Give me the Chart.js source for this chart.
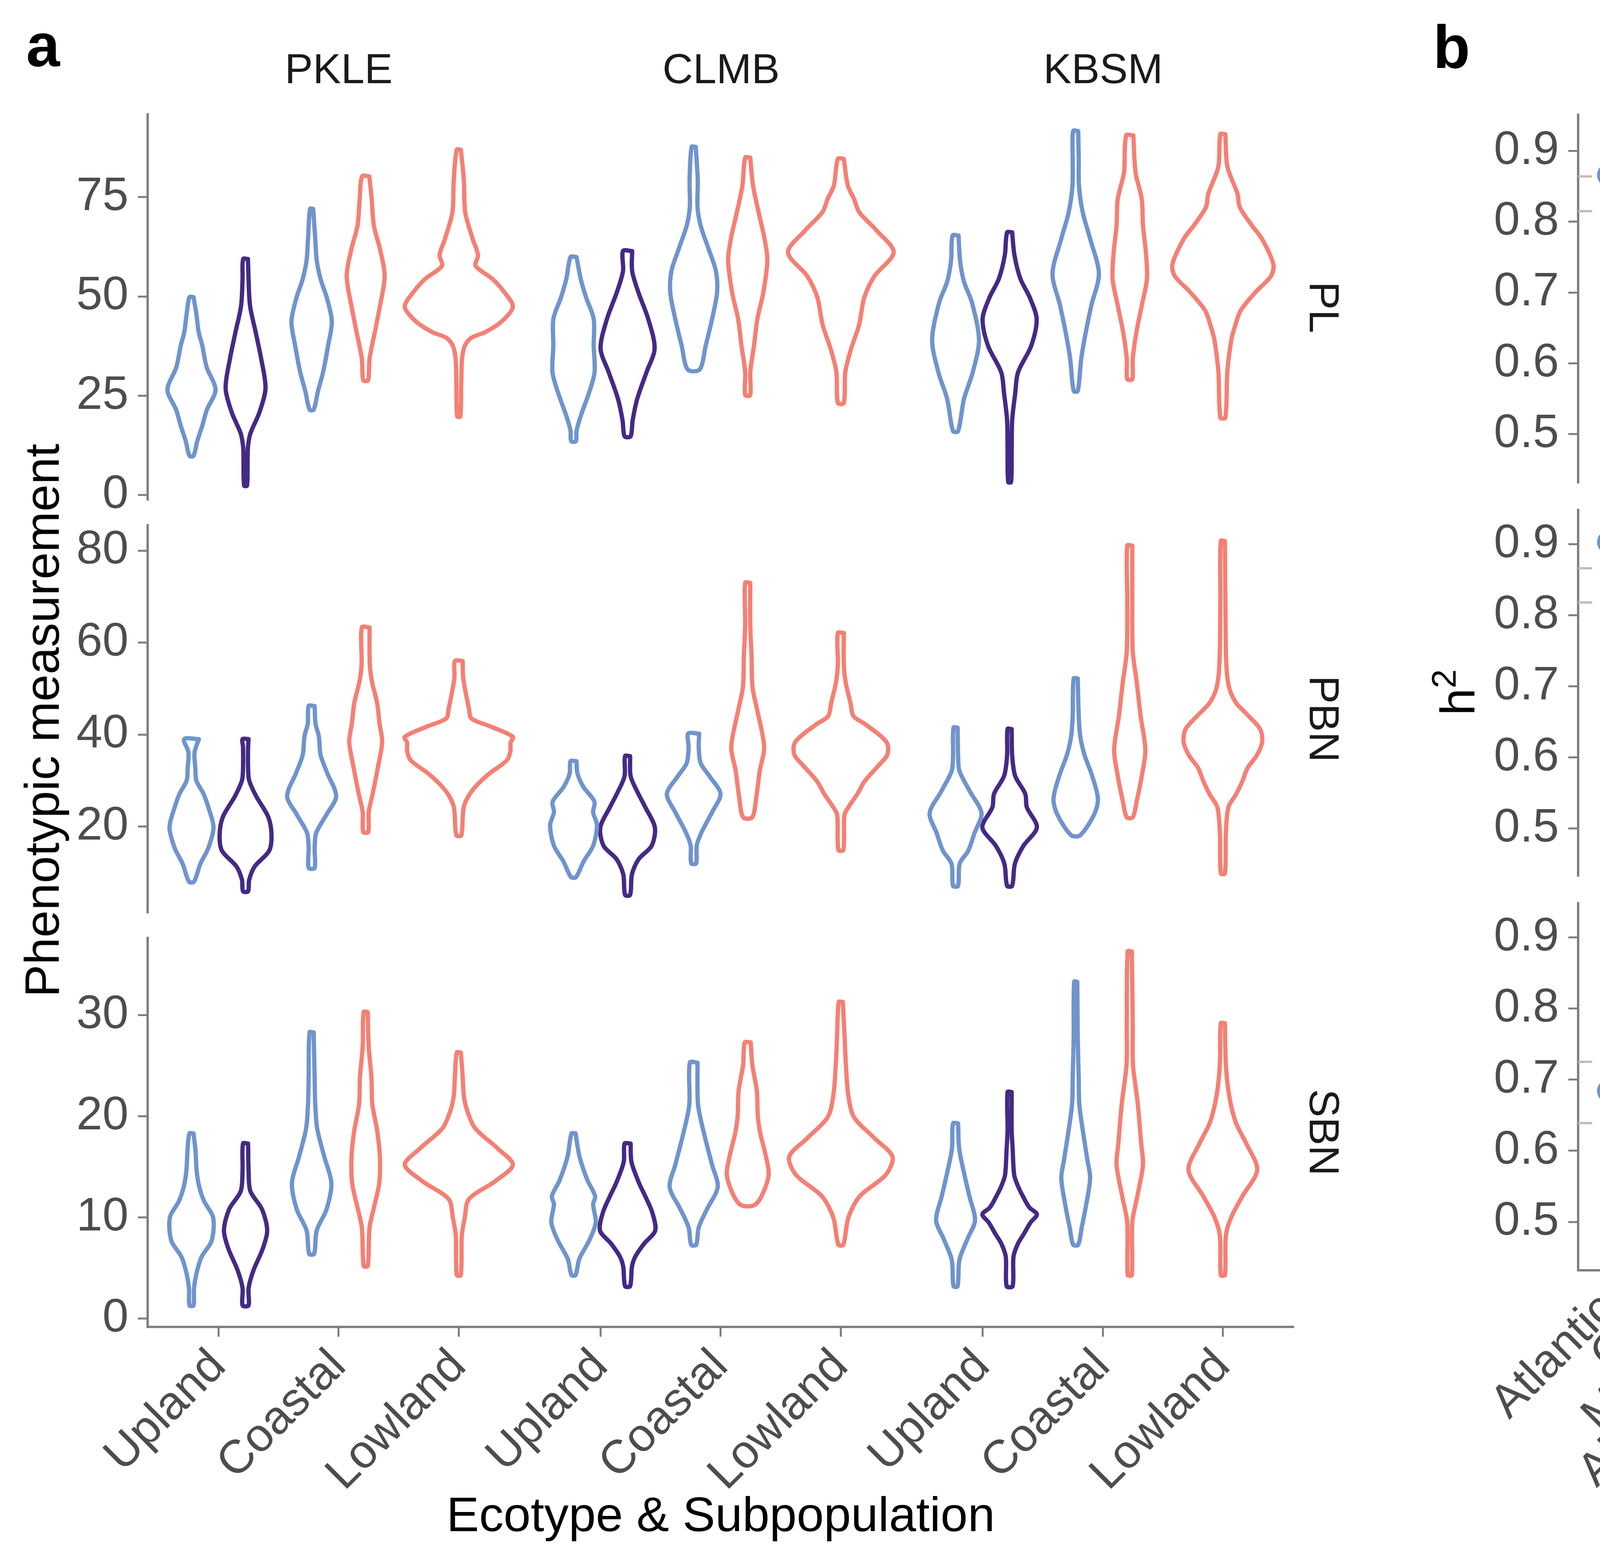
<!DOCTYPE html>
<html><head><meta charset="utf-8">
<script src="https://cdn.jsdelivr.net/npm/chart.js"></script>
<style>
html,body{margin:0;padding:0;background:#fff;}
#fig{position:relative;width:6000px;height:4000px;background:#fff;overflow:hidden;font-family:"Liberation Sans",Arial,Helvetica,sans-serif;}
canvas{position:absolute;}
.t{position:absolute;white-space:nowrap;line-height:1;}
</style></head><body><div id="fig"></div>
<script>
// ---------------- categories & tick labels ----------------
const sites = ['PKLE','CLMB','KBSM'];
const traits = ['PL','PBN','SBN'];
const ecotypes = ['Upland','Coastal','Lowland'];
const subpops = ['Atlantic','Gulf','Midwest','All Subpops'];
const yTicksPL = [0,25,50,75];   const yLabelsPL = ['0','25','50','75'];
const yTicksPBN = [20,40,60,80]; const yLabelsPBN = ['20','40','60','80'];
const yTicksSBN = [0,10,20,30];  const yLabelsSBN = ['0','10','20','30'];
const h2Ticks = [0.5,0.6,0.7,0.8,0.9]; const h2Labels = ['0.5','0.6','0.7','0.8','0.9'];

// ---------------- violin profiles: [value, half-width (category units)] top -> bottom ----------------
const PL_PKLE_UplandAtl = [[49.8,.017],[45.7,.04],[41.0,.06],[37.6,.09],[32.2,.126],[26.5,.20],[21.5,.128],[17.5,.09],[13.5,.047],[9.9,.017]];
const PL_PKLE_UplandMid = [[59.4,.02],[54.4,.025],[47.7,.037],[41.0,.084],[34.3,.13],[26.9,.166],[20.8,.115],[15.5,.04],[12.1,.02],[8.8,.017],[2.4,.012]];
const PL_PKLE_CoastalAtl = [[72.0,.013],[64.5,.03],[59.1,.042],[54.4,.074],[49.7,.126],[43.7,.168],[37.6,.137],[30.9,.095],[26.2,.053],[21.5,.017]];
const PL_PKLE_CoastalGulf = [[80.2,.03],[74.5,.05],[67.8,.068],[61.8,.12],[55.1,.158],[47.0,.115],[41.0,.076],[34.3,.032],[28.9,.02]];
const PL_PKLE_LowlandGulf = [[86.9,.017],[79.2,.042],[71.2,.053],[64.5,.115],[60.4,.16],[57.7,.14],[54.4,.28],[51.0,.38],[47.4,.45],[43.7,.357],[41.0,.22],[39.6,.105],[37.6,.05],[34.3,.027],[27.6,.02],[19.8,.013]];

const PL_CLMB_UplandAtl = [[59.9,.025],[54.4,.06],[49.7,.105],[44.3,.168],[37.6,.168],[30.9,.175],[25.5,.126],[20.2,.063],[16.2,.025],[13.6,.02]];
const PL_CLMB_UplandMid = [[61.4,.038],[56.4,.038],[51.0,.09],[44.3,.172],[36.9,.225],[30.9,.157],[24.2,.08],[18.8,.042],[14.8,.025]];
const PL_CLMB_CoastalAtl = [[87.6,.017],[79.2,.034],[72.5,.032],[67.8,.058],[61.8,.126],[56.4,.185],[51.0,.195],[44.3,.153],[37.6,.1],[31.6,.05]];
const PL_CLMB_CoastalGulf = [[84.9,.021],[77.9,.044],[71.2,.09],[64.5,.14],[59.1,.163],[51.0,.13],[44.3,.08],[37.6,.052],[30.9,.021],[25.2,.021]];
const PL_CLMB_LowlandGulf = [[84.6,.025],[77.9,.058],[74.5,.11],[71.2,.153],[66.5,.30],[61.1,.44],[55.1,.28],[49.7,.195],[43.0,.153],[36.3,.08],[30.9,.037],[23.2,.025]];

const PL_KBSM_UplandAtl = [[65.3,.025],[59.1,.037],[53.7,.07],[48.4,.137],[39.0,.195],[30.9,.143],[24.2,.07],[16.1,.021]];
const PL_KBSM_UplandMid = [[66.1,.021],[60.4,.04],[54.4,.09],[49.7,.168],[44.3,.225],[37.6,.18],[30.9,.07],[25.5,.046],[18.8,.021],[10.8,.017],[3.3,.012]];
const PL_KBSM_CoastalAtl = [[91.6,.021],[84.6,.025],[77.9,.027],[71.2,.058],[64.5,.12],[55.7,.193],[47.7,.13],[41.0,.084],[34.3,.046],[26.2,.017]];
const PL_KBSM_CoastalGulf = [[90.5,.03],[81.2,.048],[74.5,.1],[67.8,.11],[61.1,.134],[54.4,.143],[47.7,.1],[41.0,.055],[34.3,.025],[29.2,.021]];
const PL_KBSM_LowlandGulf = [[90.8,.021],[82.6,.038],[75.8,.122],[72.5,.14],[67.9,.24],[64.5,.325],[58.1,.42],[55.1,.40],[51.1,.273],[46.4,.147],[42.4,.1],[39.0,.07],[30.9,.037],[19.5,.021]];

const PBN_PKLE_UplandAtl = [[39.0,.061],[36.1,.025],[32.7,.032],[30.0,.04],[27.1,.1],[24.2,.14],[19.8,.183],[15.3,.14],[11.9,.074],[8.0,.021]];
const PBN_PKLE_UplandMid = [[39.0,.025],[37.3,.021],[32.7,.021],[30.0,.03],[26.6,.088],[22.0,.19],[18.1,.216],[14.7,.196],[11.3,.076],[8.4,.03],[5.9,.021]];
const PBN_PKLE_CoastalAtl = [[46.2,.025],[42.4,.032],[39.6,.06],[35.6,.074],[31.6,.13],[26.6,.204],[22.6,.124],[18.6,.038],[15.3,.025],[11.0,.025]];
const PBN_PKLE_CoastalGulf = [[63.3,.032],[55.4,.034],[51.4,.053],[46.9,.095],[42.4,.115],[38.4,.137],[32.7,.1],[27.1,.058],[23.1,.025],[18.8,.021]];
const PBN_PKLE_LowlandGulf = [[56.0,.032],[52.5,.036],[49.7,.053],[45.7,.084],[43.5,.105],[41.8,.26],[39.5,.45],[38.2,.43],[36.4,.43],[34.4,.4],[31.1,.235],[27.6,.105],[24.3,.042],[18.1,.021]];

const PBN_CLMB_UplandAtl = [[34.2,.025],[31.6,.032],[28.7,.08],[25.4,.174],[23.1,.163],[20.3,.195],[15.8,.163],[12.4,.084],[9.0,.021]];
const PBN_CLMB_UplandMid = [[35.3,.021],[31.0,.025],[27.6,.08],[24.2,.147],[19.8,.227],[15.8,.2],[12.9,.092],[9.6,.036],[5.1,.021]];
const PBN_CLMB_CoastalAtl = [[40.2,.046],[37.3,.042],[33.8,.058],[31.0,.13],[27.1,.223],[23.1,.153],[18.6,.063],[15.8,.025],[12.0,.021]];
const PBN_CLMB_CoastalGulf = [[73.0,.021],[63.9,.021],[57.0,.032],[50.3,.04],[45.2,.08],[37.3,.137],[32.1,.1],[26.5,.072],[22.0,.038]];
const PBN_CLMB_LowlandGulf = [[62.1,.025],[55.3,.025],[51.4,.04],[46.9,.08],[44.0,.105],[42.3,.2],[39.5,.34],[37.8,.39],[35.5,.385],[33.3,.315],[29.9,.2],[27.0,.136],[24.2,.063],[22.5,.03],[14.9,.021]];

const PBN_KBSM_UplandAtl = [[41.5,.017],[35.5,.021],[32.1,.032],[27.6,.12],[22.9,.216],[18.6,.158],[14.7,.105],[11.9,.034],[7.1,.021]];
const PBN_KBSM_UplandMid = [[41.2,.017],[35.5,.021],[31.0,.046],[27.1,.13],[24.2,.143],[19.8,.227],[15.8,.115],[11.9,.044],[7.1,.021]];
const PBN_KBSM_CoastalAtl = [[52.2,.017],[44.1,.025],[39.6,.038],[35.5,.074],[31.0,.137],[26.0,.185],[22.6,.153],[18.1,.038]];
const PBN_KBSM_CoastalGulf = [[81.1,.021],[69.5,.021],[58.1,.025],[51.4,.058],[44.1,.09],[36.7,.13],[31.0,.1],[25.5,.058],[22.0,.025]];
const PBN_KBSM_LowlandGulf = [[82.1,.017],[69.5,.021],[58.2,.025],[53.0,.035],[49.7,.058],[46.9,.11],[44.6,.193],[41.2,.31],[38.4,.327],[35.5,.283],[32.7,.205],[29.9,.163],[27.0,.11],[24.2,.046],[18.6,.025],[9.8,.017]];

const SBN_PKLE_UplandAtl = [[18.3,.017],[16.5,.034],[14.7,.042],[13.1,.063],[11.6,.105],[10.0,.18],[7.7,.168],[6.1,.084],[4.5,.042],[3.0,.021],[1.3,.017]];
const SBN_PKLE_UplandMid = [[17.3,.021],[14.7,.025],[12.6,.04],[10.8,.137],[8.7,.18],[6.9,.143],[4.8,.067],[3.0,.025],[1.3,.025]];
const SBN_PKLE_CoastalAtl = [[28.3,.017],[23.8,.025],[21.2,.03],[18.8,.046],[16.0,.105],[13.4,.164],[10.8,.124],[8.7,.042],[6.4,.021]];
const SBN_PKLE_CoastalGulf = [[30.3,.017],[26.9,.025],[23.8,.048],[21.2,.055],[18.6,.095],[16.0,.118],[13.4,.113],[11.0,.069],[9.0,.032],[5.2,.017]];
const SBN_PKLE_LowlandGulf = [[26.3,.017],[24.0,.032],[22.0,.042],[20.4,.074],[18.8,.137],[16.8,.325],[15.2,.45],[13.6,.305],[11.8,.084],[10.0,.05],[8.2,.025],[4.3,.017]];

const SBN_CLMB_UplandAtl = [[18.3,.017],[16.0,.05],[13.7,.115],[12.1,.18],[11.3,.163],[9.5,.185],[7.7,.13],[5.9,.048],[4.3,.017]];
const SBN_CLMB_UplandMid = [[17.3,.025],[15.5,.032],[13.4,.095],[12.1,.147],[10.5,.205],[8.7,.23],[7.4,.137],[6.1,.063],[5.1,.036],[3.2,.021]];
const SBN_CLMB_CoastalAtl = [[25.3,.032],[21.2,.036],[18.6,.08],[15.2,.153],[13.0,.2],[10.8,.11],[9.0,.042],[7.3,.021]];
const SBN_CLMB_CoastalGulf = [[27.3,.025],[25.1,.038],[22.5,.076],[20.0,.084],[18.3,.105],[16.0,.152],[14.2,.174],[12.1,.115],[11.2,.053]];
const SBN_CLMB_LowlandGulf = [[31.3,.017],[27.7,.032],[25.1,.042],[22.0,.063],[19.9,.11],[17.8,.283],[16.0,.43],[14.2,.373],[12.1,.158],[10.0,.063],[7.3,.021]];

const SBN_KBSM_UplandAtl = [[19.3,.021],[16.8,.03],[14.2,.074],[12.1,.115],[9.7,.162],[7.9,.1],[5.8,.032],[3.2,.017]];
const SBN_KBSM_UplandMid = [[22.4,.017],[18.6,.017],[16.8,.025],[14.2,.038],[13.1,.069],[12.1,.11],[11.0,.163],[10.3,.227],[9.5,.174],[8.4,.12],[7.4,.069],[6.1,.032],[3.2,.025]];
const SBN_KBSM_CoastalAtl = [[33.3,.013],[27.7,.017],[23.8,.025],[21.2,.03],[18.3,.063],[15.7,.097],[13.9,.12],[11.3,.088],[9.0,.05],[7.3,.021]];
const SBN_KBSM_CoastalGulf = [[36.3,.017],[29.0,.025],[25.1,.027],[21.2,.067],[17.3,.095],[15.2,.11],[12.1,.063],[9.5,.021],[4.3,.017]];
const SBN_KBSM_LowlandGulf = [[29.2,.017],[25.1,.025],[22.0,.053],[19.4,.107],[17.3,.195],[14.7,.286],[12.1,.163],[10.0,.069],[8.2,.025],[4.3,.017]];

// ---------------- heritability (panel b): order = sites x subpops ----------------
const h2_PL_est  = [0.866,0.827,0.855,0.841, 0.797,0.733,0.810,0.753, 0.878,0.789,0.759,0.803];
const h2_PL_lo   = [0.834,0.784,0.804,0.815, 0.751,0.667,0.747,0.716, 0.848,0.737,0.681,0.773];
const h2_PL_hi   = [0.900,0.870,0.903,0.864, 0.844,0.797,0.873,0.789, 0.910,0.841,0.837,0.833];
const h2_PBN_est = [0.903,0.807,0.878,0.843, 0.773,0.843,0.796,0.815, 0.716,0.824,0.770,0.781];
const h2_PBN_lo  = [0.877,0.761,0.836,0.818, 0.720,0.802,0.729,0.787, 0.654,0.780,0.695,0.750];
const h2_PBN_hi  = [0.927,0.855,0.920,0.866, 0.824,0.882,0.862,0.843, 0.777,0.867,0.844,0.814];
const h2_SBN_est = [0.684,0.684,0.727,0.682, 0.672,0.627,0.720,0.646, 0.632,0.576,0.576,0.589];
const h2_SBN_lo  = [0.616,0.613,0.641,0.639, 0.604,0.544,0.634,0.598, 0.557,0.488,0.456,0.537];
const h2_SBN_hi  = [0.750,0.755,0.811,0.725, 0.740,0.708,0.806,0.692, 0.706,0.664,0.698,0.642];

// ---------------- styling / layout ----------------
const FONT = '"Liberation Sans", Arial, Helvetica, sans-serif';
const COL = {'Atlantic':'#7094CC','Gulf':'#F48074','Midwest':'#442A84','All Subpops':'#BEBEBE'};
const AXIS_COL = '#7F7F7F', TICK_TXT = '#4D4D4D', STRIP_TXT = '#1A1A1A';
const TICK_SIZE = 120, STRIP_SIZE = 108, TITLE_SIZE = 125, LEG_SIZE = 115;
const FACET_A = 3.18, EXP_A = 0.59, DODGE = 0.225;
const FACET_B = 4.18, EXP_B = 0.59, CAP = 0.14;
const fig = document.getElementById('fig');

const violinSlots = [
  {cat:0, dodge:-DODGE, sub:'Atlantic'}, {cat:0, dodge:DODGE, sub:'Midwest'},
  {cat:1, dodge:-DODGE, sub:'Atlantic'}, {cat:1, dodge:DODGE, sub:'Gulf'},
  {cat:2, dodge:0, sub:'Gulf'}];
const violinSets = {
  PL:[[PL_PKLE_UplandAtl,PL_PKLE_UplandMid,PL_PKLE_CoastalAtl,PL_PKLE_CoastalGulf,PL_PKLE_LowlandGulf],
      [PL_CLMB_UplandAtl,PL_CLMB_UplandMid,PL_CLMB_CoastalAtl,PL_CLMB_CoastalGulf,PL_CLMB_LowlandGulf],
      [PL_KBSM_UplandAtl,PL_KBSM_UplandMid,PL_KBSM_CoastalAtl,PL_KBSM_CoastalGulf,PL_KBSM_LowlandGulf]],
  PBN:[[PBN_PKLE_UplandAtl,PBN_PKLE_UplandMid,PBN_PKLE_CoastalAtl,PBN_PKLE_CoastalGulf,PBN_PKLE_LowlandGulf],
      [PBN_CLMB_UplandAtl,PBN_CLMB_UplandMid,PBN_CLMB_CoastalAtl,PBN_CLMB_CoastalGulf,PBN_CLMB_LowlandGulf],
      [PBN_KBSM_UplandAtl,PBN_KBSM_UplandMid,PBN_KBSM_CoastalAtl,PBN_KBSM_CoastalGulf,PBN_KBSM_LowlandGulf]],
  SBN:[[SBN_PKLE_UplandAtl,SBN_PKLE_UplandMid,SBN_PKLE_CoastalAtl,SBN_PKLE_CoastalGulf,SBN_PKLE_LowlandGulf],
      [SBN_CLMB_UplandAtl,SBN_CLMB_UplandMid,SBN_CLMB_CoastalAtl,SBN_CLMB_CoastalGulf,SBN_CLMB_LowlandGulf],
      [SBN_KBSM_UplandAtl,SBN_KBSM_UplandMid,SBN_KBSM_CoastalAtl,SBN_KBSM_CoastalGulf,SBN_KBSM_LowlandGulf]]
};

const xTicksA = [], xLabelsA = [];
sites.forEach((s,f)=>ecotypes.forEach((e,c)=>{xTicksA.push(f*FACET_A+EXP_A+c); xLabelsA.push(e);}));
const xTicksB = [], xLabelsB = [], subOfB = [];
sites.forEach((s,f)=>subpops.forEach((p,k)=>{xTicksB.push(f*FACET_B+EXP_B+k); xLabelsB.push(p); subOfB.push(p);}));

function violinDatasets(trait){
  const out=[];
  violinSets[trait].forEach((site,f)=>site.forEach((prof,k)=>{
    const s=violinSlots[k]; const c=f*FACET_A+EXP_A+s.cat+s.dodge;
    const right=prof.map(p=>({x:c+p[1],y:p[0]}));
    const left=prof.slice().reverse().map(p=>({x:c-p[1],y:p[0]}));
    out.push({data:right.concat(left,[right[0]]),showLine:true,borderColor:COL[s.sub],borderWidth:11,
      pointRadius:0,fill:false,tension:0.3,clip:false,borderJoinStyle:'round',borderCapStyle:'round'});
  }));
  return out;
}

function h2Datasets(est,lo,hi){
  const ds=[];
  ds.push({data:est.map((v,i)=>({x:xTicksB[i],y:v})),showLine:false,pointRadius:30,pointHoverRadius:30,
    pointBackgroundColor:subOfB.map(s=>COL[s]),pointBorderWidth:0,order:0});
  subpops.forEach(sp=>{
    const d=[];
    est.forEach((v,i)=>{ if(subOfB[i]!==sp) return; const x=xTicksB[i];
      d.push({x,y:lo[i]},{x,y:hi[i]},{x,y:null},
             {x:x-CAP,y:lo[i]},{x:x+CAP,y:lo[i]},{x,y:null},
             {x:x-CAP,y:hi[i]},{x:x+CAP,y:hi[i]},{x,y:null});});
    ds.push({data:d,showLine:true,borderColor:COL[sp],borderWidth:6,pointRadius:0,tension:0,spanGaps:false,order:1});
  });
  const dd=[];
  sites.forEach((s,f)=>{ const i=f*4+3; const x0=f*FACET_B, x1=(f+1)*FACET_B;
    dd.push({x:x0,y:lo[i]},{x:x1,y:lo[i]},{x:x0,y:null},{x:x0,y:hi[i]},{x:x1,y:hi[i]},{x:x0,y:null}); });
  ds.push({data:dd,showLine:true,borderColor:'#BEBEBE',borderWidth:6,borderDash:[36,22],pointRadius:0,tension:0,spanGaps:false,order:2});
  return ds;
}

function gridOpt(){return {display:true,drawOnChartArea:false,drawTicks:true,tickLength:25,tickWidth:5,tickColor:AXIS_COL};}
function yAxis(min,max,ticks,labels,width){
  return {type:'linear',position:'left',min,max,
    afterBuildTicks:s=>{s.ticks=ticks.map(v=>({value:v}));},
    afterFit:s=>{s.width=width;s.paddingTop=0;s.paddingBottom=0;},
    ticks:{autoSkip:false,callback:(v,i)=>labels[i],color:TICK_TXT,font:{family:FONT,size:TICK_SIZE},padding:24},
    grid:gridOpt(),border:{display:true,color:AXIS_COL,width:6}};
}
function xAxis(max,ticks,labels,height){
  if(height===null) return {type:'linear',min:0,max,display:false};
  return {type:'linear',position:'bottom',min:0,max,
    afterBuildTicks:s=>{s.ticks=ticks.map(v=>({value:v}));},
    afterFit:s=>{s.height=height;s.paddingLeft=0;s.paddingRight=0;},
    ticks:{autoSkip:false,minRotation:45,maxRotation:45,callback:(v,i)=>labels[i],color:TICK_TXT,font:{family:FONT,size:TICK_SIZE},padding:6},
    grid:gridOpt(),border:{display:true,color:AXIS_COL,width:6}};
}
function buildChart(cfg){
  const cv=document.createElement('canvas');
  cv.width=cfg.w; cv.height=cfg.h;
  Object.assign(cv.style,{left:cfg.x+'px',top:cfg.y+'px',width:cfg.w+'px',height:cfg.h+'px'});
  fig.appendChild(cv);
  return new Chart(cv.getContext('2d'),{type:'scatter',data:{datasets:cfg.datasets},
    options:{responsive:false,maintainAspectRatio:false,animation:false,devicePixelRatio:1,events:[],
      layout:{padding:cfg.pad},plugins:{legend:{display:false},tooltip:{enabled:false}},
      scales:{x:cfg.xs,y:cfg.ys}}});
}

// ---------------- panel a ----------------
const rowsA = [
  {trait:'PL', T:293, B:1281, min:-1.28, max:95.78, ticks:yTicksPL, labels:yLabelsPL, Hx:null},
  {trait:'PBN',T:1345,B:2338, min:1.18,  max:85.54, ticks:yTicksPBN,labels:yLabelsPBN,Hx:null},
  {trait:'SBN',T:2402,B:3398, min:-0.83, max:37.63, ticks:yTicksSBN,labels:yLabelsSBN,Hx:480}
];
const A_LEFT=0, A_WY=378, A_R=3312, A_PADR=28;
rowsA.forEach(r=>{
  const y=r.T-30; const bot = r.Hx===null?40:0; const h=r.B-y+(r.Hx===null?40:r.Hx);
  buildChart({x:A_LEFT,y,w:A_R+A_PADR-A_LEFT,h,pad:{left:0,top:30,right:A_PADR,bottom:bot},
    xs:xAxis(3*FACET_A,xTicksA,xLabelsA,r.Hx),ys:yAxis(r.min,r.max,r.ticks,r.labels,A_WY),
    datasets:violinDatasets(r.trait)});
});

// ---------------- panel b ----------------
const rowsB = [
  {T:294, B:1237, min:0.431, max:0.951, est:h2_PL_est, lo:h2_PL_lo, hi:h2_PL_hi, Hx:null},
  {T:1306,B:2244, min:0.433, max:0.948, est:h2_PBN_est,lo:h2_PBN_lo,hi:h2_PBN_hi,Hx:null},
  {T:2313,B:3253, min:0.432, max:0.948, est:h2_SBN_est,lo:h2_SBN_lo,hi:h2_SBN_hi,Hx:600}
];
const B_LEFT=3790, B_WY=250, B_R=5705, B_PADR=35;
rowsB.forEach(r=>{
  const y=r.T-30; const bot = r.Hx===null?40:0; const h=r.B-y+(r.Hx===null?40:r.Hx);
  buildChart({x:B_LEFT,y,w:B_R+B_PADR-B_LEFT,h,pad:{left:0,top:30,right:B_PADR,bottom:bot},
    xs:xAxis(3*FACET_B,xTicksB,xLabelsB,r.Hx),ys:yAxis(r.min,r.max,h2Ticks,h2Labels,B_WY),
    datasets:h2Datasets(r.est,r.lo,r.hi)});
});

// ---------------- text ----------------
function txt(s,x,y,size,opt){
  opt=opt||{}; const d=document.createElement('div'); d.className='t'; d.innerHTML=s;
  d.style.fontSize=size+'px'; d.style.color=opt.color||'#000'; d.style.fontFamily=FONT;
  if(opt.bold) d.style.fontWeight='bold';
  d.style.left=x+'px'; d.style.top=y+'px';
  const tx=opt.left?'0':'-50%';
  d.style.transform='translate('+tx+',-50%)'+(opt.rot?' rotate('+opt.rot+'deg)':'');
  fig.appendChild(d); return d;
}
txt('a',110,115,155,{bold:true});
txt('b',3716,120,155,{bold:true});
const stripXA=[867,1846,2824], stripXB=[4316,4874,5428];
sites.forEach((s,i)=>{txt(s,stripXA[i],176,STRIP_SIZE,{color:STRIP_TXT}); txt(s,stripXB[i],177,STRIP_SIZE,{color:STRIP_TXT});});
const stripYA=[787,1841,2900], stripYB=[765,1775,2783];
traits.forEach((t,i)=>{txt(t,3390,stripYA[i],STRIP_SIZE,{color:STRIP_TXT,rot:90}); txt(t,5820,stripYB[i],STRIP_SIZE,{color:STRIP_TXT,rot:90});});
txt('Phenotypic measurement',107,1845,TITLE_SIZE,{rot:-90});
txt('Ecotype &amp; Subpopulation',1845,3877,TITLE_SIZE);
txt('h<sup style="font-size:0.7em;vertical-align:0.55em;line-height:0">2</sup>',3731,1773,TITLE_SIZE,{rot:-90});
txt('Subpopulation',4872,3875,TITLE_SIZE);

// legend
const LEG_X=4984, LEG_Y0=2090, LEG_DY=111.7;
subpops.forEach((sp,i)=>{
  const y=LEG_Y0+i*LEG_DY;
  const ln=document.createElement('div');
  Object.assign(ln.style,{position:'absolute',left:(LEG_X-44)+'px',top:(y-3)+'px',width:'88px',height:'6px',background:COL[sp]});
  fig.appendChild(ln);
  const c=document.createElement('div');
  Object.assign(c.style,{position:'absolute',left:(LEG_X-30)+'px',top:(y-30)+'px',width:'60px',height:'60px',borderRadius:'50%',background:COL[sp]});
  fig.appendChild(c);
  txt(sp,5101,y,LEG_SIZE,{left:true});
});
</script></body></html>
